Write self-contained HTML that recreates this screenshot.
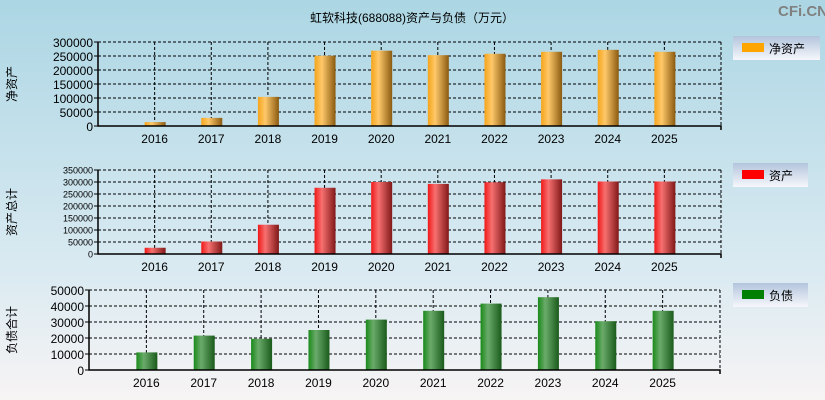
<!DOCTYPE html>
<html><head><meta charset="utf-8"><style>
body{margin:0;width:825px;height:400px;overflow:hidden}
svg{display:block;font-family:"Liberation Sans","Noto Sans CJK SC",sans-serif}
</style></head><body>
<svg id="c" width="825" height="400">
<defs>
<linearGradient id="bg" x1="0" y1="0" x2="0" y2="1"><stop offset="0" stop-color="#acd6e4"/><stop offset="0.7" stop-color="#dcebf2"/><stop offset="1" stop-color="#f7f4f4"/></linearGradient>
<linearGradient id="lg" x1="0" y1="0" x2="0" y2="1"><stop offset="0" stop-color="#b3c5dd"/><stop offset="1" stop-color="#f6f7fb"/></linearGradient>
<linearGradient id="go" x1="0" x2="1"><stop offset="0" stop-color="#f5a41a"/><stop offset="0.35" stop-color="#fec86a"/><stop offset="1" stop-color="#8a5a10"/></linearGradient>
<linearGradient id="gr" x1="0" x2="1"><stop offset="0" stop-color="#f01818"/><stop offset="0.35" stop-color="#f77070"/><stop offset="1" stop-color="#801818"/></linearGradient>
<linearGradient id="gg" x1="0" x2="1"><stop offset="0" stop-color="#1a8a1a"/><stop offset="0.35" stop-color="#6aaa6a"/><stop offset="1" stop-color="#1a5a1a"/></linearGradient>
</defs>
<rect width="825" height="400" fill="url(#bg)"/>
<text x="412" y="22" font-size="12" text-anchor="middle">虹软科技(688088)资产与负债（万元）</text>
<text x="778" y="16" font-size="15" font-weight="bold" fill="#808080">CFi.CN</text>
</svg>
<script>
const years=["2016","2017","2018","2019","2020","2021","2022","2023","2024","2025"];
const netAssets=[14000,29000,104000,251000,269000,253000,258000,265000,272000,265000];
const totalAssets=[26000,52000,122000,276000,300000,292000,299000,311000,302000,302000];
const liabilities=[11000,21500,19500,25000,31500,37000,41500,45500,30500,37000];
const ticks1=[0,50000,100000,150000,200000,250000,300000];
const ticks2=[0,50000,100000,150000,200000,250000,300000,350000];
const ticks3=[0,10000,20000,30000,40000,50000];
const svg=document.getElementById('c');
const NS='http://www.w3.org/2000/svg';
function mk(t,a){const e=document.createElementNS(NS,t);for(const k in a)e.setAttribute(k,a[k]);svg.appendChild(e);return e;}
function panel(p){
  const {L,R,T,B,max,ticks,vals,grad,tf,title,tcx,legend,ly,lw,color,yl,n}=p;
  const slot=(R-L)/11;
  const x=i=>L+slot*(i+1);
  const y=v=>B-(v/max)*(B-T);
  ticks.forEach(t=>{
    if(t>0){const g=mk('line',{x1:L,x2:R,y1:y(t),y2:y(t),stroke:'#000','stroke-dasharray':'3,2','stroke-width':1});
    
    }
    const tl=mk('text',{x:L-5,y:y(t)+tf/2-1,'font-size':tf,'text-anchor':'end'});tl.textContent=t;
    
    
    const tk=mk('line',{x1:L-4,x2:L,y1:y(t),y2:y(t),stroke:'#000'});
    
    
  });
  years.forEach((yr,i)=>{
    const g=mk('line',{x1:x(i),x2:x(i),y1:T,y2:B,stroke:'#000','stroke-dasharray':'3,2'});
    
    
  });
  const rl=mk('line',{x1:R,x2:R,y1:T,y2:B+4,stroke:'#000','stroke-dasharray':'3,2'});
  
  
  years.forEach((yr,i)=>{
    const b=mk('rect',{x:x(i)-10,y:y(vals[i]),width:21,height:B-y(vals[i]),fill:`url(#${grad})`});
    
    
    const l=mk('text',{x:x(i),y:B+17,'font-size':12,'text-anchor':'middle'});l.textContent=yr;
    
    
  });
  const ax=mk('path',{d:`M${L},${T} V${B} H${R} v4`,stroke:'#000',fill:'none','stroke-width':1.5});
  
  
  const yt=mk('text',{x:0,y:0,'font-size':12,'text-anchor':'middle',transform:`translate(${yl},${tcx}) rotate(-90)`});yt.textContent=title;
  
  
  const lb=mk('rect',{x:733,y:ly,width:lw,height:24,fill:'url(#lg)'});
  
  
  const sw=mk('rect',{x:742,y:ly+7,width:22,height:9,fill:color});
  
  
  const lt=mk('text',{x:769,y:ly+17,'font-size':12});lt.textContent=legend;
  
  
}
panel({n:'net-assets',L:98,R:721,T:42,B:126,max:300000,ticks:ticks1,vals:netAssets,grad:'go',tf:12,title:'净资产',tcx:84,yl:16,legend:'净资产',ly:36,lw:87,color:'#ffa500'});
panel({n:'total-assets',L:98,R:721,T:170,B:254,max:350000,ticks:ticks2,vals:totalAssets,grad:'gr',tf:9,title:'资产总计',tcx:212,yl:16,legend:'资产',ly:163,lw:75,color:'#ff0000'});
panel({n:'liabilities',L:89,R:720,T:290,B:370,max:50000,ticks:ticks3,vals:liabilities,grad:'gg',tf:12,title:'负债合计',tcx:330,yl:16,legend:'负债',ly:283,lw:75,color:'#008000'});
</script>
</body></html>
